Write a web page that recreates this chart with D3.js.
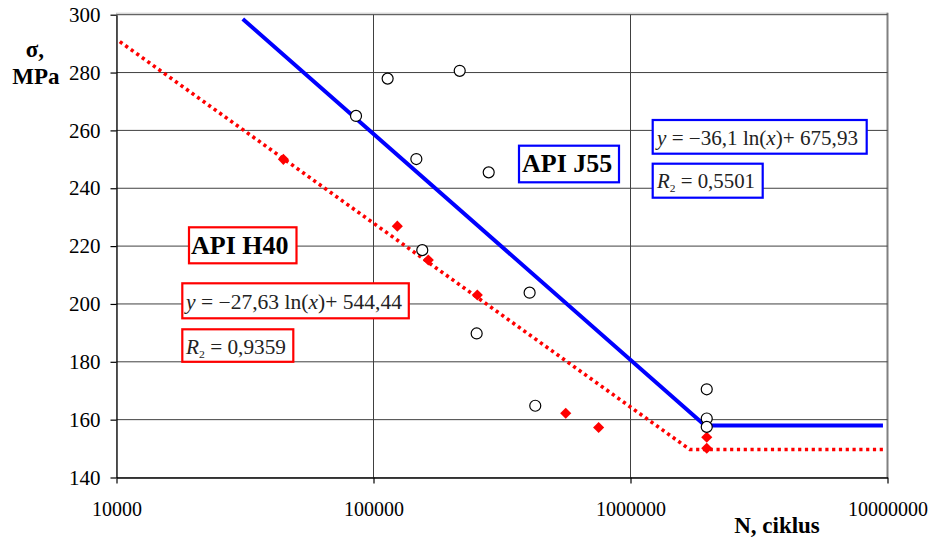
<!DOCTYPE html>
<html>
<head>
<meta charset="utf-8">
<script src="https://cdn.jsdelivr.net/npm/d3@7"></script>
<style>
  body { margin: 0; background: #fff; }
  svg { display: block; font-family: "Liberation Serif", "Times New Roman", serif; }
</style>
</head>
<body>
<svg id="chart" width="930" height="539"></svg>
<script>
// measured points, API J55 (open circles)
const j55N = [85500, 113500, 216500, 146800, 280700, 154800, 405000, 252000, 426000, 1980000, 1980000, 1980000];
const j55S = [265, 277.9, 280.6, 250.1, 245.5, 218.6, 203.9, 189.8, 164.8, 170.5, 160.4, 157.5];
// measured points, API H40 (red diamonds)
const h40N = [44600, 123800, 163400, 253500, 559700, 751700, 1980000, 1980000];
const h40S = [250, 226.9, 215.2, 203.1, 162.2, 157.3, 153.9, 150.1];
// trend lines
const j55LineN = [31000, 1950000, 9600000];
const j55LineS = [298.5, 158, 158];
const h40LineN = [10300, 1700000, 9600000];
const h40LineS = [290.7, 149.7, 149.7];
// axes
const xTicks = [10000, 100000, 1000000, 10000000];
const yTicks = [140, 160, 180, 200, 220, 240, 260, 280, 300];

const svg = d3.select("#chart");
const pLeft = 116.5, pRight = 887.5, pTop = 14.7, pBottom = 477.5;

const x = d3.scaleLog().domain([1e4, 1e7]).range([pLeft, pRight]);
const y = d3.scaleLinear().domain([140, 300]).range([pBottom, pTop]);

// plot frame
svg.append("rect")
  .attr("x", pLeft).attr("y", pTop - 1.5)
  .attr("width", pRight - pLeft).attr("height", pBottom - pTop + 1.5)
  .attr("fill", "none").attr("stroke", "#c8c8c8").attr("stroke-width", 1);
svg.append("line")
  .attr("x1", pRight).attr("x2", pRight).attr("y1", pTop - 2).attr("y2", pBottom)
  .attr("stroke", "#808080").attr("stroke-width", 2);

// grid
svg.append("g").selectAll("line").data(yTicks.slice(1)).join("line")
  .attr("x1", pLeft).attr("x2", pRight)
  .attr("y1", d => y(d)).attr("y2", d => y(d))
  .attr("stroke", "#404040").attr("stroke-width", 1);
svg.append("g").selectAll("line").data(xTicks.slice(1, 3)).join("line")
  .attr("x1", d => x(d)).attr("x2", d => x(d))
  .attr("y1", pTop).attr("y2", pBottom)
  .attr("stroke", "#404040").attr("stroke-width", 1);

// axes
const yAxis = svg.append("g")
  .attr("transform", "translate(" + pLeft + ",0)")
  .call(d3.axisLeft(y).tickValues(yTicks).tickSize(6).tickPadding(10).tickSizeOuter(0));
const xAxis = svg.append("g")
  .attr("transform", "translate(0," + pBottom + ")")
  .call(d3.axisBottom(x).tickValues(xTicks).tickSize(6).tickPadding(18).tickSizeOuter(0)
    .tickFormat(d3.format("d")));
[yAxis, xAxis].forEach(g => {
  g.select(".domain").attr("stroke", "#000").attr("stroke-width", 1.3);
  g.selectAll(".tick line").attr("stroke", "#000").attr("stroke-width", 1.2);
  g.selectAll("text")
    .attr("font-family", "Liberation Serif, serif")
    .attr("font-size", 21).attr("fill", "#000");
});
xAxis.selectAll("text").attr("font-size", 20);

// trend lines
const line = d3.line().x(d => x(d[0])).y(d => y(d[1]));
svg.append("path")
  .datum(j55LineN.map((n, i) => [n, j55LineS[i]]))
  .attr("d", line).attr("fill", "none")
  .attr("stroke", "#0000ff").attr("stroke-width", 4);
svg.append("path")
  .datum(h40LineN.map((n, i) => [n, h40LineS[i]]))
  .attr("d", line).attr("fill", "none")
  .attr("stroke", "#ff0000").attr("stroke-width", 3.6)
  .attr("stroke-dasharray", "3.2,3.6");

// markers
svg.append("g").selectAll("path").data(h40N.map((n, i) => [n, h40S[i]])).join("path")
  .attr("d", d3.symbol().type(d3.symbolSquare).size(62))
  .attr("transform", d => "translate(" + x(d[0]) + "," + y(d[1]) + ") rotate(45)")
  .attr("fill", "#ff0000");
svg.append("g").selectAll("circle").data(j55N.map((n, i) => [n, j55S[i]])).join("circle")
  .attr("cx", d => x(d[0])).attr("cy", d => y(d[1])).attr("r", 5.5)
  .attr("fill", "#fff").attr("stroke", "#000").attr("stroke-width", 1.2);

// boxed labels
function box(x0, y0, w, h, color) {
  svg.append("rect").attr("x", x0).attr("y", y0).attr("width", w).attr("height", h)
    .attr("fill", "#fff").attr("stroke", color).attr("stroke-width", 2.2);
}
function title(x0, y0, t) {
  svg.append("text").attr("x", x0).attr("y", y0)
    .attr("font-size", 26).attr("font-weight", "bold").attr("fill", "#000").text(t);
}
function equation(x0, y0, slope, icpt, len) {
  const t = svg.append("text").attr("x", x0).attr("y", y0)
    .attr("font-size", 20).attr("fill", "#222")
    .attr("textLength", len).attr("lengthAdjust", "spacingAndGlyphs");
  t.append("tspan").attr("font-style", "italic").text("y");
  t.append("tspan").text(" = \u2212" + slope + " ln(");
  t.append("tspan").attr("font-style", "italic").text("x");
  t.append("tspan").text(")+ " + icpt);
}
function rsq(x0, y0, val, len) {
  const t = svg.append("text").attr("x", x0).attr("y", y0)
    .attr("font-size", 20).attr("fill", "#222")
    .attr("textLength", len).attr("lengthAdjust", "spacingAndGlyphs");
  t.append("tspan").attr("font-style", "italic").text("R");
  t.append("tspan").attr("font-size", 11).attr("dy", 4).text("2");
  t.append("tspan").attr("dy", -4).text(" = " + val);
}

box(519, 145.7, 100, 36.6, "#0000ff");
title(522, 172, "API J55");
box(652.7, 120, 214, 33.7, "#0000ff");
equation(657, 145, "36,1", "675,93", 201);
box(652.7, 163.7, 110, 34, "#0000ff");
rsq(657, 188, "0,5501", 98);

box(189, 227.3, 107.5, 36, "#ff0000");
title(191, 254, "API H40");
box(182.3, 283.3, 226.5, 35, "#ff0000");
equation(186, 309, "27,63", "544,44", 216);
box(182.3, 329.3, 111, 32.5, "#ff0000");
rsq(186, 354, "0,9359", 100);

// axis titles
svg.append("text").attr("x", 35).attr("y", 57).attr("text-anchor", "middle")
  .attr("font-size", 23).attr("font-weight", "bold").text("\u03c3,");
svg.append("text").attr("x", 36).attr("y", 84).attr("text-anchor", "middle")
  .attr("font-size", 23).attr("font-weight", "bold").text("MPa");
svg.append("text").attr("x", 777).attr("y", 533).attr("text-anchor", "middle")
  .attr("font-size", 23).attr("font-weight", "bold").text("N, ciklus");
</script>
</body>
</html>
